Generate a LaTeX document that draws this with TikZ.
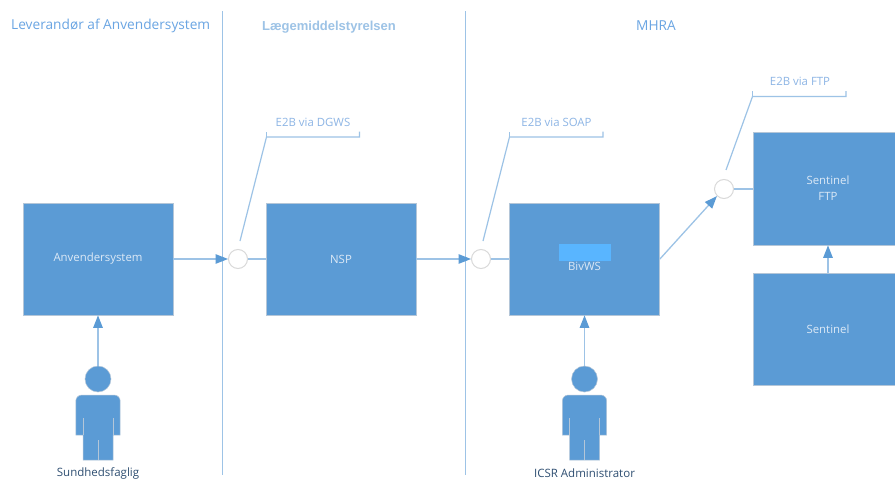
\documentclass[tikz,border=0pt]{standalone}
\usepackage{fontspec}
\setmainfont{Open Sans}
\newfontfamily\headfont{Liberation Sans}
\usetikzlibrary{arrows.meta}
\definecolor{boxblue}{HTML}{5B9BD5}
\definecolor{linelight}{HTML}{9DC3E6}
\definecolor{headblue}{HTML}{6AA5E3}
\definecolor{labelblue}{HTML}{8DB5E5}
\definecolor{edgegrey}{HTML}{B4C6D8}
\definecolor{ringgrey}{HTML}{D9D9D9}
\definecolor{darktext}{HTML}{2F4F72}
\definecolor{boxtext}{HTML}{DCE9F6}
\definecolor{hilite}{HTML}{59B5FF}
\tikzset{
  sysbox/.style={draw=edgegrey,line width=.8pt,fill=boxblue,inner sep=0pt,text=boxtext,font=\fontsize{11.4}{16}\selectfont,align=center},
  iface/.style={circle,draw=ringgrey,line width=1pt,fill=white,minimum size=19pt,inner sep=0pt},
  flow/.style={draw=linelight,line width=1.3pt,-{Triangle[length=12.5pt,width=9.5pt,color=boxblue]}},
  link/.style={draw=linelight,line width=1.3pt},
  divider/.style={draw=linelight,line width=1.3pt},
  calloutline/.style={draw=linelight,line width=1.2pt},
  heading/.style={text=headblue,font=\fontsize{13.7}{16}\selectfont,inner sep=0pt},
  tag/.style={text=labelblue,font=\fontsize{11.4}{13}\selectfont,inner sep=0pt},
  actorcap/.style={text=darktext,font=\fontsize{11.5}{13}\selectfont,inner sep=0pt},
  headdot/.style={circle,draw=edgegrey,line width=.5pt,fill=boxblue,minimum size=26pt,inner sep=0pt},
}
\newcommand{\actorbody}[1]{%
  \begin{scope}[shift={(#1,0)}]
    \filldraw[draw=edgegrey,line width=.5pt,fill=boxblue]
      (-22.2,435) [rounded corners=6pt] -- (-22.2,395) -- (22.2,395) [sharp corners] -- (22.2,435)
      -- (15,435) -- (15,460) -- (-15,460) -- (-15,435) -- cycle;
    \draw[edgegrey,line width=.6pt] (-15,418) -- (-15,435) (15,418) -- (15,435) (0,440) -- (0,460);
  \end{scope}}
\begin{document}
\begin{tikzpicture}[x=1pt,y=-1pt]
\useasboundingbox (0,0) rectangle (895,479);
\fill[white] (0,0) rectangle (895,479);

\coordinate (d1t) at (222.5,11); \coordinate (d1b) at (222.5,475);
\coordinate (d2t) at (465.5,11); \coordinate (d2b) at (465.5,475);
\draw[divider] (d1t) -- (d1b);
\draw[divider] (d2t) -- (d2b);

\node[heading,anchor=west] (h1) at (11,26) {Leverandør af Anvendersystem};
\node[heading,text=linelight,font=\headfont\bfseries\fontsize{13}{15}\selectfont] (h2) at (329,27.5) {Lægemiddelstyrelsen};
\node[heading] (h3) at (656,26) {MHRA};

\node[sysbox,minimum width=150pt,minimum height=112pt] (anv) at (98,259) {Anvendersystem};
\node[sysbox,minimum width=150pt,minimum height=112pt] (nsp) at (341,259) {NSP};
\node[sysbox,minimum width=150pt,minimum height=112pt] (biv) at (584.5,259) {};
\fill[hilite] (559,244) rectangle (611,261);
\node[text=boxtext,font=\fontsize{11.4}{13}\selectfont,inner sep=0pt] (bivt) at (584.5,266.5) {BivWS};
\node[sysbox,minimum width=150pt,minimum height=113pt] (ftp) at (828,188.5) {Sentinel\\FTP};
\node[sysbox,minimum width=150pt,minimum height=112pt] (sen) at (828,329) {Sentinel};

\node[iface] (c1) at (238,259) {};
\node[iface] (c2) at (481,259) {};
\node[iface] (c3) at (724,189) {};

\draw[flow] (anv.east |- 0,259) -- (c1.west);
\draw[link] (c1.east) -- (nsp.west);
\draw[flow] (nsp.east) -- (c2.west);
\draw[link] (c2.east) -- (biv.west);
\draw[flow] (biv.east) -- (c3.south west);
\draw[link] (c3.east) -- (ftp.west |- c3.east);
\draw[flow] (sen.north) -- (ftp.south);

\coordinate (s1) at (240,241); \coordinate (b1a) at (266.5,137); \coordinate (b1b) at (359.5,137);
\coordinate (s2) at (483,241); \coordinate (b2a) at (509.5,137); \coordinate (b2b) at (603,137);
\coordinate (s3) at (726,170); \coordinate (b3a) at (752.5,96.5); \coordinate (b3b) at (846,96.5);
\draw[calloutline] (s1) -- (b1a) -- (b1b) -- ++(0,-5.5);
\draw[calloutline] (b1a) -- ++(0,-5.5);
\draw[calloutline] (s2) -- (b2a) -- (b2b) -- ++(0,-5.5);
\draw[calloutline] (b2a) -- ++(0,-5.5);
\draw[calloutline] (s3) -- (b3a) -- (b3b) -- ++(0,-5.5);
\draw[calloutline] (b3a) -- ++(0,-5.5);

\node[tag] (t1) at (313,122.5) {E2B via DGWS};
\node[tag] (t2) at (556.5,122.5) {E2B via SOAP};
\node[tag] (t3) at (800,81.5) {E2B via FTP};

\actorbody{98}
\actorbody{584.5}
\node[headdot] (p1) at (98,379) {};
\node[headdot] (p2) at (584.5,379) {};
\draw[flow] (p1.north) -- (anv.south);
\draw[flow] (p2.north) -- (biv.south);

\node[actorcap] (n1) at (98,473) {Sundhedsfaglig};
\node[actorcap] (n2) at (584.5,473) {ICSR Administrator};
\end{tikzpicture}
\end{document}
